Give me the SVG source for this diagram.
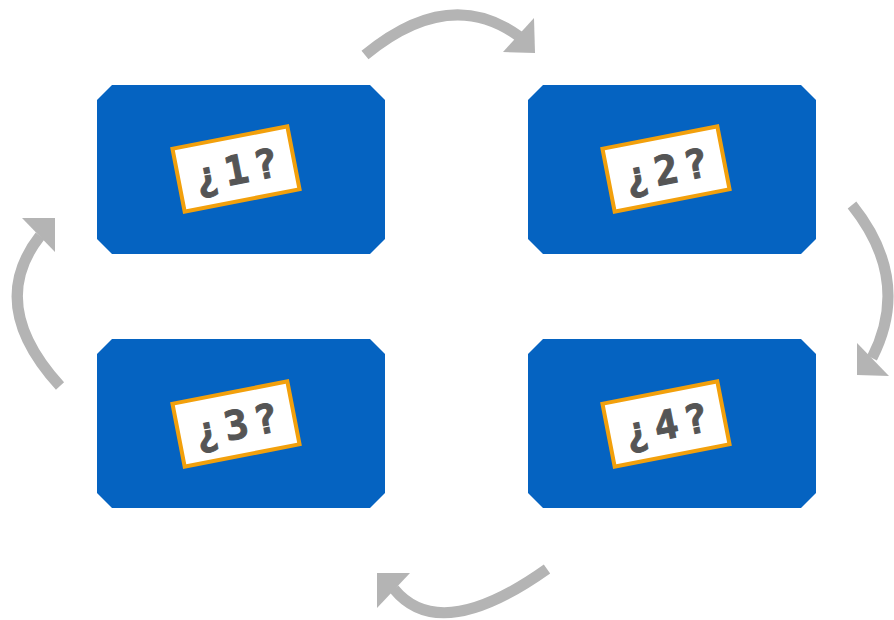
<svg xmlns="http://www.w3.org/2000/svg" width="894" height="620" viewBox="0 0 894 620">
<style>
.box{fill:#0563C1}
.card{fill:#ffffff;stroke:#F2A00C;stroke-width:4}
.lbl{font-family:"DejaVu Sans Mono","Liberation Mono",monospace;font-weight:bold;font-size:40px;fill:#555555;letter-spacing:6px;stroke:#555555;stroke-width:1}
.shaft{fill:none;stroke:#B4B4B4;stroke-width:11}
.head{fill:#B4B4B4}
</style>
<rect width="894" height="620" fill="#ffffff"/>
<g id="connectors">
<path class="shaft" d="M365,55 Q450,-15 520,37"/>
<polygon class="head" points="534,18 535,53 503,52"/>
<path class="shaft" d="M852,205 Q912,280 872,358"/>
<polygon class="head" points="857,343 857,375 889,376"/>
<path class="shaft" d="M547,569 Q440,645 394,589"/>
<polygon class="head" points="377,573 410,573 377,608"/>
<path class="shaft" d="M60,386 Q-14,305 40,236"/>
<polygon class="head" points="22,218 55,218 55,252"/>
</g>
<g id="node1">
<polygon class="box" points="112,85 370,85 385,100 385,239 370,254 112,254 97,239 97,100"/>
<g transform="translate(236,169) rotate(-11)">
<rect class="card" x="-58.5" y="-32" width="117" height="64"/>
<text class="lbl" x="3" y="15" text-anchor="middle">¿1?</text>
</g>
</g>
<g id="node2">
<polygon class="box" points="543,85 801,85 816,100 816,239 801,254 543,254 528,239 528,100"/>
<g transform="translate(666,169) rotate(-11)">
<rect class="card" x="-58.5" y="-32" width="117" height="64"/>
<text class="lbl" x="3" y="15" text-anchor="middle">¿2?</text>
</g>
</g>
<g id="node3">
<polygon class="box" points="112,339 370,339 385,354 385,493 370,508 112,508 97,493 97,354"/>
<g transform="translate(236,424) rotate(-11)">
<rect class="card" x="-58.5" y="-32" width="117" height="64"/>
<text class="lbl" x="3" y="15" text-anchor="middle">¿3?</text>
</g>
</g>
<g id="node4">
<polygon class="box" points="543,339 801,339 816,354 816,493 801,508 543,508 528,493 528,354"/>
<g transform="translate(666,424) rotate(-11)">
<rect class="card" x="-58.5" y="-32" width="117" height="64"/>
<text class="lbl" x="3" y="15" text-anchor="middle">¿4?</text>
</g>
</g>
</svg>
